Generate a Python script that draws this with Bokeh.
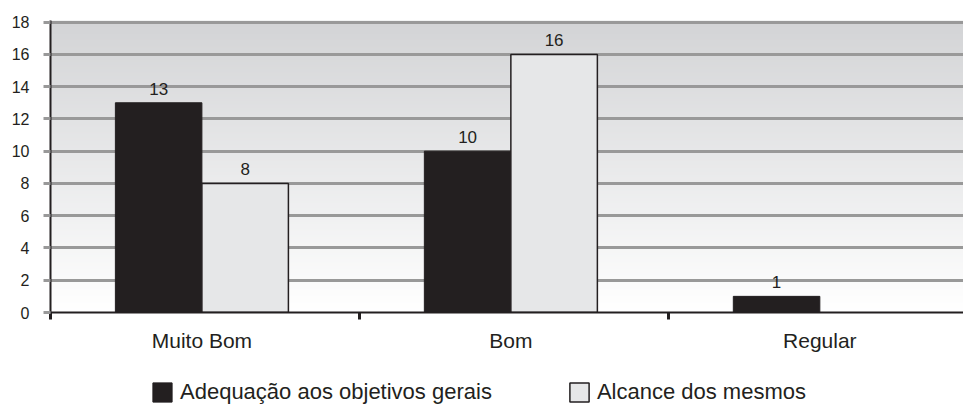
import numpy as np
from bokeh.plotting import figure
from bokeh.layouts import column
from bokeh.models import ColumnDataSource, FixedTicker, Range1d, Legend, LegendItem
from bokeh.core.properties import value
from bokeh.embed import file_html
from bokeh.resources import INLINE

# ---- data -------------------------------------------------------------
categories = ["Muito Bom", "Bom", "Regular"]
adequacao = [13, 10, 1]          # Adequação aos objetivos gerais
alcance = [8, 16, 0]             # Alcance dos mesmos
series_names = ["Adequação aos objetivos gerais", "Alcance dos mesmos"]
y_ticks = [0, 2, 4, 6, 8, 10, 12, 14, 16, 18]

# ---- style ------------------------------------------------------------
DARK = "#231f20"
LIGHT = "#e6e7e8"
GRID = "#999999"
FONT = "Liberation Sans"
BAR_W = 0.28
X_END = 2.955
Y_END = 18.1
STYLE_A = dict(fill_color=DARK, line_color=DARK, line_width=1)
STYLE_B = dict(fill_color=LIGHT, line_color=DARK, line_width=1.5)

idx = np.arange(len(categories))
group_center = idx + 0.49


def series_source(xs, vals):
    keep = [i for i, v in enumerate(vals) if v > 0]
    return ColumnDataSource(dict(
        x=[xs[i] for i in keep],
        top=[vals[i] for i in keep],
        label=[str(vals[i]) for i in keep],
    ))


src_a = series_source(group_center - BAR_W / 2, adequacao)
src_b = series_source(group_center + BAR_W / 2, alcance)

p = figure(
    width=963, height=370,
    x_range=Range1d(0, X_END), y_range=Range1d(0, Y_END),
    output_backend="svg", toolbar_location=None,
    min_border_left=50, min_border_right=0,
    min_border_top=20, min_border_bottom=58,
)
p.outline_line_color = None
p.background_fill_color = "white"
p.border_fill_color = "white"

# vertical grey-to-white wash behind the plot
n = 256
t = np.linspace(0.0, 1.0, n)
img = np.empty((n, 1), dtype=np.uint32)
view = img.view(dtype=np.uint8).reshape((n, 1, 4))
for ch, top_val in enumerate((211, 212, 214)):
    view[:, 0, ch] = np.round(255 - t * (255 - top_val) * (Y_END / 18)).clip(0, 255).astype(np.uint8)
view[:, 0, 3] = 255
p.image_rgba(image=[img], x=0, y=0, dw=X_END, dh=Y_END, level="image")

# bars
r_a = p.vbar(x="x", top="top", width=BAR_W, bottom=0, source=src_a, **STYLE_A)
r_b = p.vbar(x="x", top="top", width=BAR_W, bottom=0, source=src_b, **STYLE_B)

# value labels
for src in (src_a, src_b):
    p.text(x="x", y="top", text="label", source=src,
           text_align="center", text_baseline="alphabetic", y_offset=-14,
           text_font=value(FONT), text_font_size="17px", text_color=DARK)

# grid
p.xgrid.visible = False
p.ygrid.ticker = FixedTicker(ticks=y_ticks)
p.ygrid.grid_line_color = GRID
p.ygrid.grid_line_width = 3

# y axis
yax = p.yaxis[0]
yax.ticker = FixedTicker(ticks=y_ticks)
yax.axis_line_color = DARK
yax.axis_line_width = 2
yax.major_tick_in = 0
yax.major_tick_out = 7
yax.major_tick_line_color = GRID
yax.major_tick_line_width = 3
yax.minor_tick_line_color = None
yax.major_label_standoff = 14
yax.major_label_text_font = FONT
yax.major_label_text_font_size = "16px"
yax.major_label_text_color = DARK

# x axis: category names at group centres, marks at the category borders
xax = p.xaxis[0]
label_pos = [float(v) for v in group_center]
xax.ticker = FixedTicker(ticks=label_pos, minor_ticks=[float(v) for v in idx])
xax.major_label_overrides = {pos: name for pos, name in zip(label_pos, categories)}
xax.axis_line_color = DARK
xax.axis_line_width = 2
xax.major_tick_line_color = None
xax.major_tick_in = 0
xax.major_tick_out = 0
xax.minor_tick_in = 0
xax.minor_tick_out = 7
xax.minor_tick_line_color = DARK
xax.minor_tick_line_width = 3
xax.major_label_standoff = 9
xax.major_label_text_font = FONT
xax.major_label_text_font_size = "21px"
xax.major_label_text_color = DARK

# legend strip under the chart (key glyphs carry no drawable data)
leg = figure(
    width=963, height=34, x_range=Range1d(0, 1), y_range=Range1d(0, 1),
    output_backend="svg", toolbar_location=None,
    x_axis_type=None, y_axis_type=None, min_border=0,
)
leg.outline_line_color = None
leg.grid.visible = False
leg.background_fill_color = "white"
leg.border_fill_color = "white"
nan_src = lambda: ColumnDataSource(dict(x=[float("nan")], top=[float("nan")]))
key_a = leg.vbar(x="x", top="top", width=0.1, source=nan_src(), **STYLE_A)
key_b = leg.vbar(x="x", top="top", width=0.1, source=nan_src(), **STYLE_B)

legend = Legend(
    items=[LegendItem(label=series_names[0], renderers=[key_a]),
           LegendItem(label=series_names[1], renderers=[key_b])],
    location=(100, -1), orientation="horizontal",
    glyph_width=24, glyph_height=24, label_height=24, label_standoff=6,
    spacing=75, padding=0, margin=0,
    border_line_color=None, background_fill_alpha=0,
    label_text_font=FONT, label_text_font_size="22px", label_text_color=DARK,
)
leg.add_layout(legend, "center")

layout = column(p, leg, spacing=0)
open("out.html", "w").write(file_html(layout, INLINE))
